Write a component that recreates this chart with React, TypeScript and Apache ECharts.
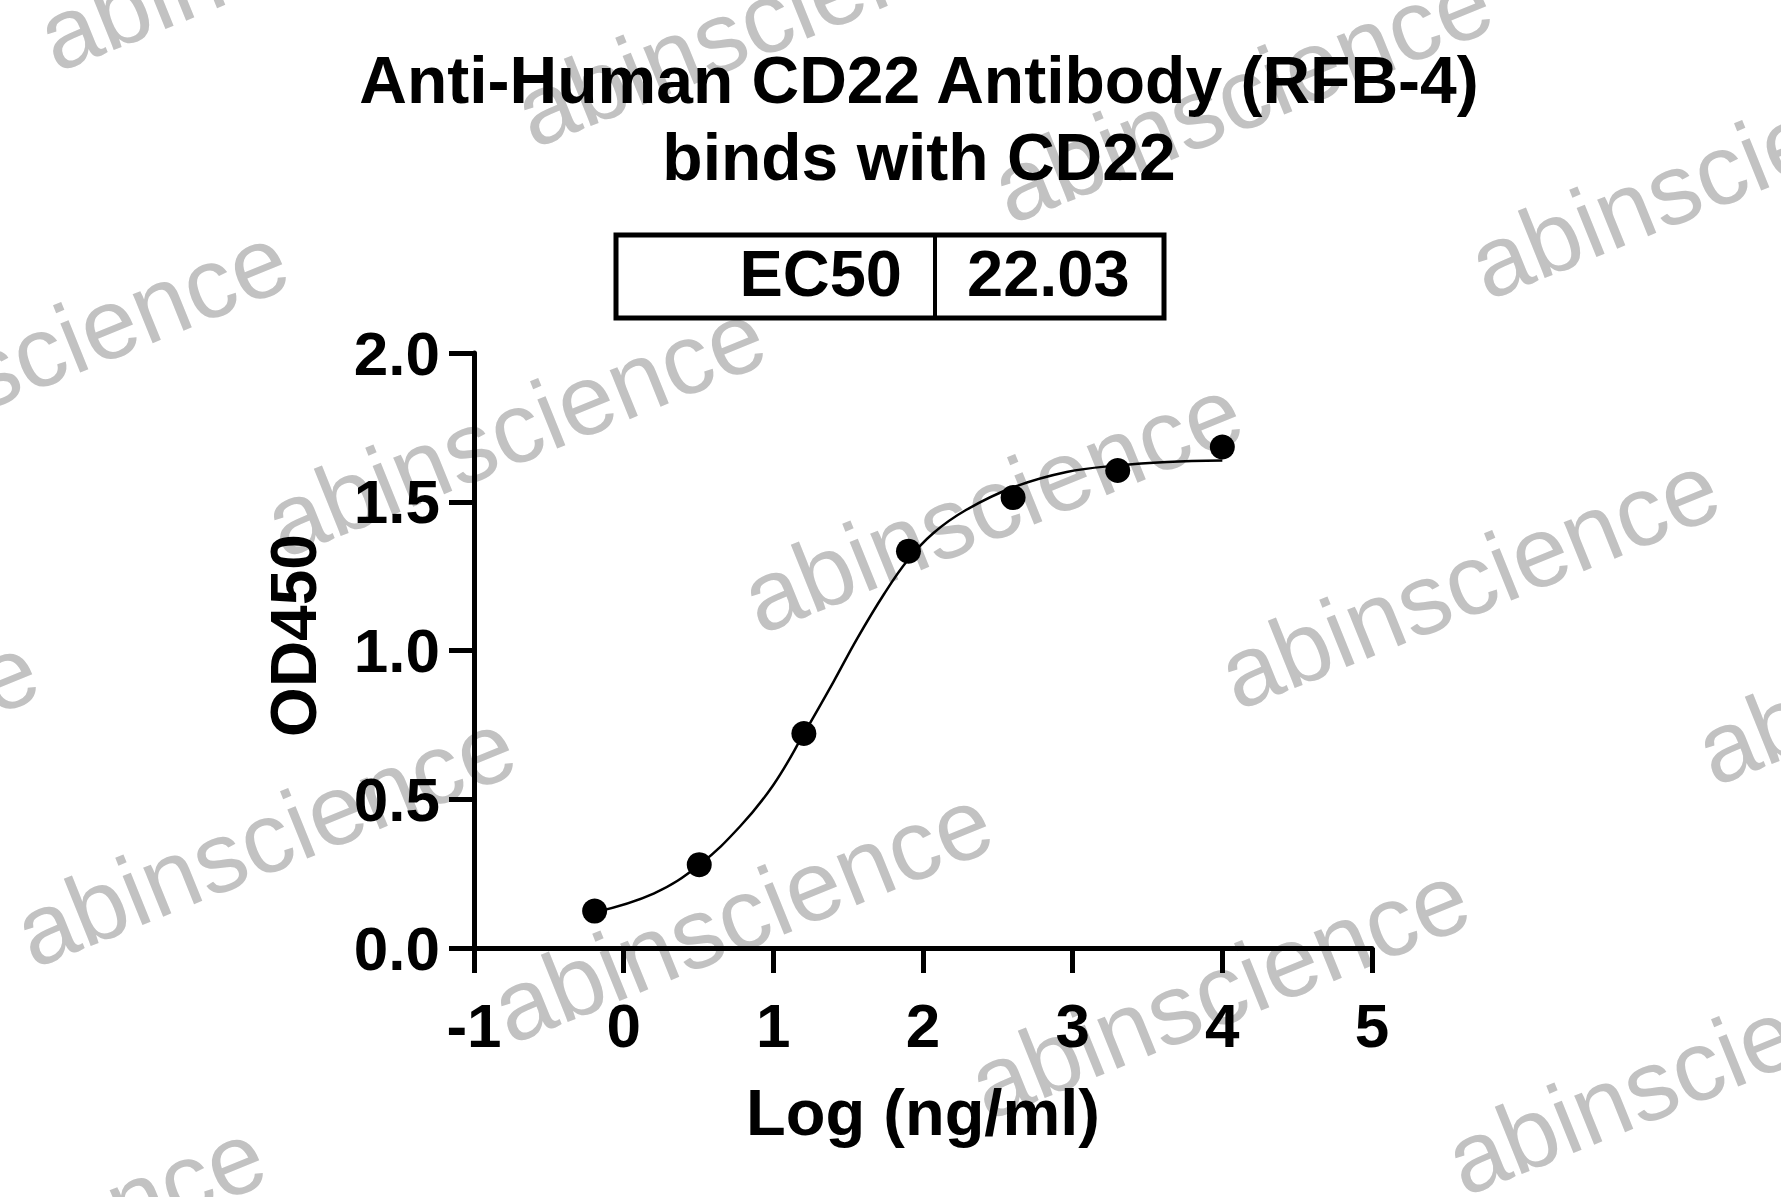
import React, { useEffect, useRef } from 'react';
import * as echarts from 'echarts';

// ---- data ----
const titleLines = ['Anti-Human CD22 Antibody (RFB-4)', 'binds with CD22'];
const ec50Label = 'EC50';
const ec50Value = '22.03';
const xAxisTitle = 'Log (ng/ml)';
const yAxisTitle = 'OD450';
const yTickLabels = ['0.0', '0.5', '1.0', '1.5', '2.0'];

// measured points (log concentration, OD450)
const logConc = [-0.194, 0.505, 1.204, 1.903, 2.602, 3.301, 4.0];
const od450 = [0.124, 0.28, 0.721, 1.334, 1.514, 1.605, 1.684];

// fitted curve
const fitX = [-0.194, 0.2, 0.507, 0.78, 1.0, 1.206, 1.4, 1.56, 1.74, 1.9, 2.07, 2.29, 2.6, 2.96, 3.3, 3.63, 4.0];
const fitY = [0.12, 0.183, 0.28, 0.41, 0.548, 0.722, 0.893, 1.04, 1.19, 1.305, 1.395, 1.473, 1.548, 1.6, 1.622, 1.634, 1.639];

const watermarkText = 'abinscience';

const FONT = '"Liberation Sans", Arial, Helvetica, sans-serif';

export default function App() {
  const ref = useRef<HTMLDivElement>(null);

  useEffect(() => {
    const chart = echarts.init(ref.current as HTMLDivElement, null, { renderer: 'svg' });

    // watermark lattice
    const theta = (22 * Math.PI) / 180;
    const O = [283, 559];
    const A = [477, 76];
    const B = [-250, 410];
    const wm: any[] = [];
    for (let j = -3; j <= 3; j++) {
      for (let i = -2; i <= 5; i++) {
        const sx = O[0] + i * A[0] + j * B[0];
        const sy = O[1] + i * A[1] + j * B[1];
        if (sx > 1781 || sx + 520 < 0 || sy - 300 > 1197 || sy + 40 < 0) continue;
        const off = 34.65;
        wm.push({
          type: 'text',
          x: sx - off * Math.sin(theta),
          y: sy - off * Math.cos(theta),
          rotation: theta,
          z: -10,
          silent: true,
          style: {
            text: watermarkText,
            fontSize: 100,
            fontFamily: FONT,
            fill: '#c2c2c2',
            textAlign: 'left',
            align: 'left',
            textVerticalAlign: 'middle',
            verticalAlign: 'middle',
          },
        });
      }
    }

    const boldText = (text: string, x: number, y: number, align: string, size: number) => ({
      type: 'text',
      x,
      y,
      z: 10,
      style: {
        text,
        fontSize: size,
        fontWeight: 'bold',
        fontFamily: FONT,
        fill: '#000',
        textAlign: align,
        align,
        textVerticalAlign: 'middle',
        verticalAlign: 'middle',
      },
    });

    const option: any = {
      animation: false,
      backgroundColor: '#ffffff',
      grid: { left: 474, right: 409, top: 353, bottom: 249, containLabel: false },
      xAxis: {
        type: 'value',
        min: -1,
        max: 5,
        interval: 1,
        name: xAxisTitle,
        nameLocation: 'middle',
        nameGap: 132,
        nameTextStyle: { fontSize: 65, fontWeight: 'bold', fontFamily: FONT, color: '#000' },
        axisLine: { show: true, onZero: false, lineStyle: { color: '#000', width: 5 } },
        axisTick: { show: true, length: 25, lineStyle: { color: '#000', width: 5 } },
        axisLabel: { margin: 46, fontSize: 62, fontWeight: 'bold', fontFamily: FONT, color: '#000' },
        splitLine: { show: false },
      },
      yAxis: {
        type: 'value',
        min: 0,
        max: 2,
        interval: 0.5,
        name: yAxisTitle,
        nameLocation: 'middle',
        nameGap: 148,
        nameTextStyle: { fontSize: 64, fontWeight: 'bold', fontFamily: FONT, color: '#000', padding: [0, 0, 0, 30] },
        axisLine: { show: true, onZero: false, lineStyle: { color: '#000', width: 5 } },
        axisTick: { show: true, length: 25, lineStyle: { color: '#000', width: 5 } },
        axisLabel: {
          margin: 34,
          fontSize: 62,
          fontWeight: 'bold',
          fontFamily: FONT,
          color: '#000',
          formatter: (v: number) => yTickLabels[Math.round(v / 0.5)] ?? v.toFixed(1),
        },
        splitLine: { show: false },
      },
      graphic: [
        ...wm,
        boldText(titleLines[0], 919, 80, 'center', 66),
        boldText(titleLines[1], 919, 157, 'center', 66),
        {
          type: 'rect',
          z: 10,
          shape: { x: 616, y: 235, width: 548, height: 83 },
          style: { fill: 'none', stroke: '#000', lineWidth: 5 },
        },
        {
          type: 'line',
          z: 10,
          shape: { x1: 935, y1: 235, x2: 935, y2: 318 },
          style: { stroke: '#000', lineWidth: 4 },
        },
        boldText(ec50Label, 902, 273, 'right', 65),
        boldText(ec50Value, 967, 273, 'left', 65),
      ],
      series: [
        {
          type: 'line',
          name: 'fit',
          data: fitX.map((x, i) => [x, fitY[i]]),
          smooth: 0.4,
          showSymbol: false,
          symbol: 'none',
          lineStyle: { color: '#000', width: 2.5 },
          z: 3,
        },
        {
          type: 'scatter',
          name: 'OD450',
          data: logConc.map((x, i) => [x, od450[i]]),
          symbol: 'circle',
          symbolSize: 25,
          itemStyle: { color: '#000', opacity: 1 },
          z: 4,
        },
      ],
    };

    chart.setOption(option);
    return () => chart.dispose();
  }, []);

  return <div ref={ref} style={{ position: 'absolute', left: 0, top: 0, width: 1781, height: 1197 }} />;
}
